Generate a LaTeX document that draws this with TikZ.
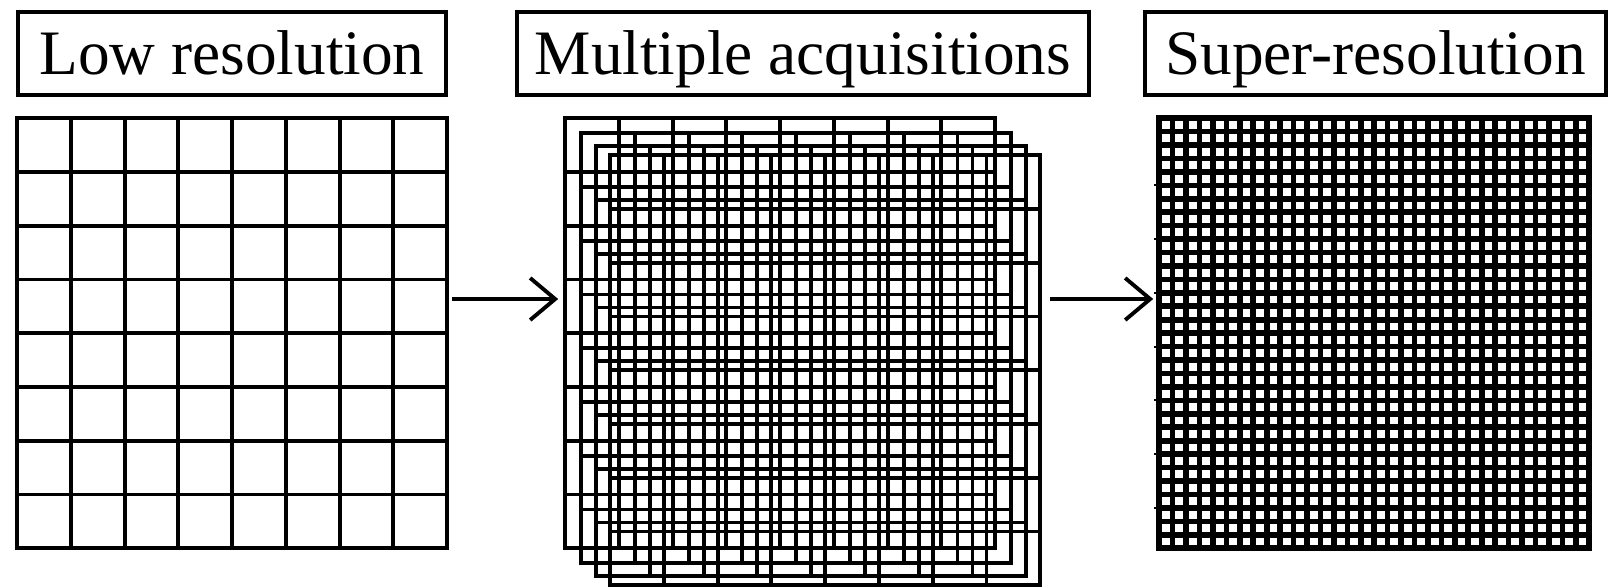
\documentclass[tikz,border=0pt]{standalone}
\usepackage{fontspec}
\setmainfont{Liberation Serif}
\usetikzlibrary{arrows.meta, positioning}

\begin{document}
\begin{tikzpicture}[x=0.01cm, y=-0.01cm,
		title/.style={draw, line width=1.1pt, minimum height=0.83cm, inner sep=0pt,
			text height=12pt, text depth=0pt, font=\fontsize{18}{20}\selectfont},
		gridpen/.style={line width=1.1pt, line cap=rect},
		finepen/.style={line width=1.6pt, line cap=rect},
		panel/.style={inner sep=0pt, minimum size=4.3cm},
		arr/.style={line width=1.1pt, -{Straight Barb[length=0.25cm, width=0.42cm, line width=1.1pt]}}]
	\useasboundingbox (0,0) rectangle (1621,587);
	% titles
	\node[title, minimum width=4.27cm] (lowtitle) at (232,53.5) {Low resolution};
	\node[title, minimum width=5.72cm] (acqtitle) at (803,53.5) {Multiple acquisitions};
	\node[title, minimum width=4.61cm] (suptitle) at (1375.5,53.5) {Super-resolution};
	% low resolution grid
	\node[panel] (low) at (233,334) {};
	\foreach \i in {0,...,8} {
		\draw[gridpen] (low.north west) ++(\i*53.75,0) -- ++(0,430);
		\draw[gridpen] (low.north west) ++(0,\i*53.75) -- ++(430,0);
	}
	% shifted acquisitions
	\foreach \n/\dx/\dy in {1/0/0, 2/16/15, 3/31/28, 4/45/37} {
		\node[panel] (acq\n) at (781+\dx,334+\dy) {};
		\foreach \i in {0,...,8} {
			\draw[gridpen] (acq\n.north west) ++(\i*53.75,0) -- ++(0,430);
			\draw[gridpen] (acq\n.north west) ++(0,\i*53.75) -- ++(430,0);
		}
	}
	% super-resolution grid
	\node[panel] (super) at (1375,334) {};
	\foreach \i in {0,...,32} {
		\draw[finepen] (super.north west) ++(\i*13.4375,0) -- ++(0,430);
		\draw[finepen] (super.north west) ++(0,\i*13.4375) -- ++(430,0);
	}
	\foreach \r in {5,9,...,29}
		\draw[line width=0.6pt] (super.north west) ++(0,\r*13.4375) -- ++(-5,0);
	% arrows
	\coordinate (flow) at (0,299);
	\draw[arr, shorten <=0.03cm, shorten >=0.07cm] (low.east |- flow) -- (acq1.west |- flow);
	\draw[arr, shorten <=0.08cm, shorten >=0.06cm] (acq4.east |- flow) -- (super.west |- flow);
\end{tikzpicture}
\end{document}
